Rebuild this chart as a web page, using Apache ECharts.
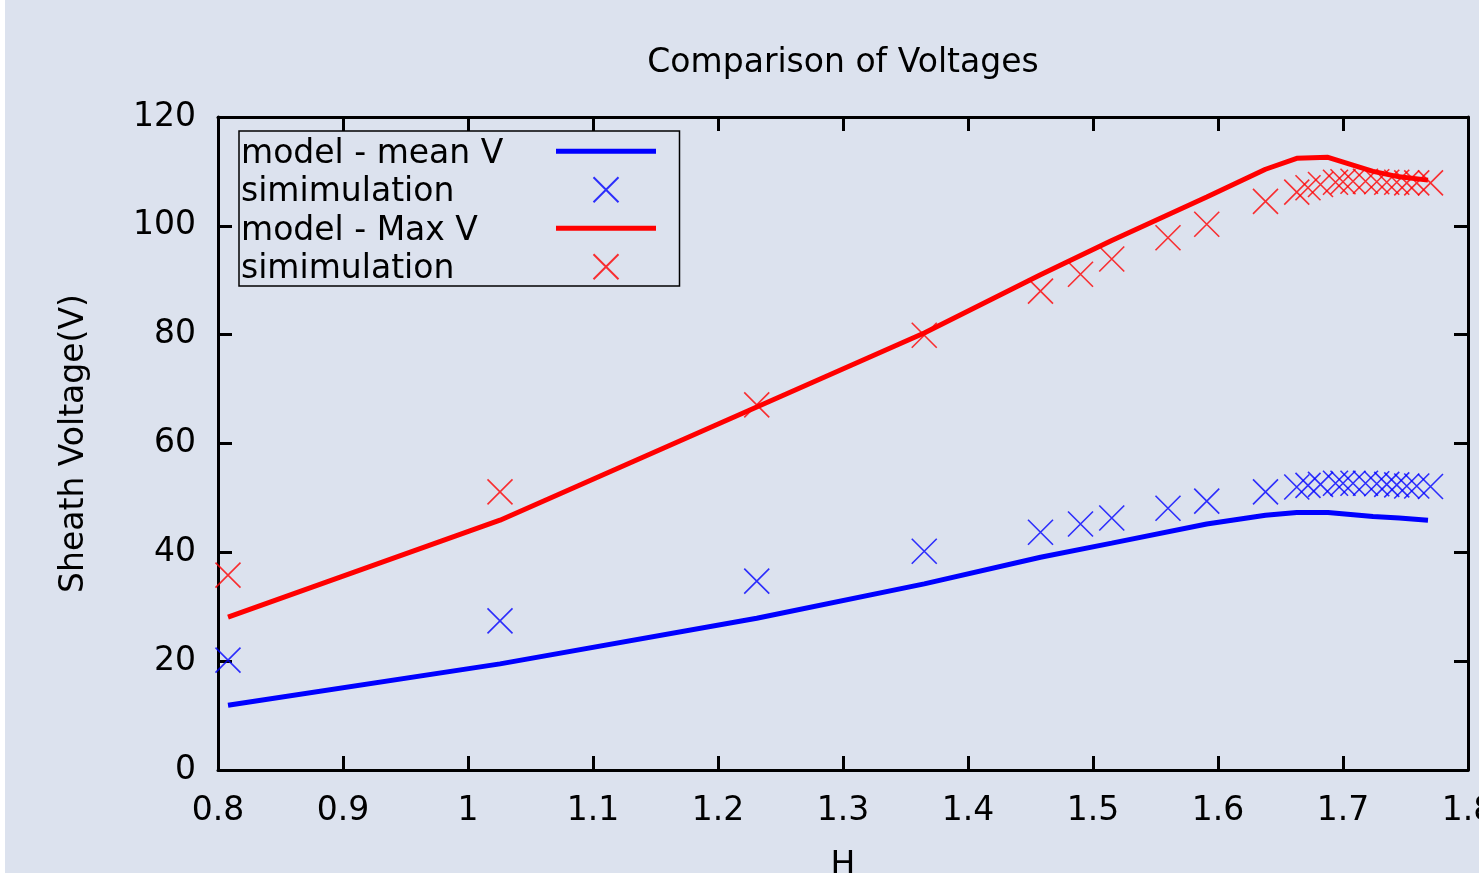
<!DOCTYPE html>
<html><head><meta charset="utf-8">
<script src="https://cdn.jsdelivr.net/npm/echarts@6/dist/echarts.min.js"></script>
<style>
html,body{margin:0;padding:0;background:#ffffff;overflow:hidden;}
#c{position:absolute;left:5px;top:0;width:1474px;height:873px;}
</style></head>
<body><div id="c"></div>
<script>
const H_model = [0.808, 1.0256, 1.231, 1.365, 1.458, 1.515, 1.591, 1.638, 1.663, 1.688, 1.724, 1.745, 1.768];
const meanModel = [11.9, 19.5, 27.9, 34.2, 39.1, 41.7, 45.2, 46.8, 47.3, 47.3, 46.6, 46.3, 45.9];
const maxModel = [28.1, 45.9, 66.7, 80.3, 91.0, 97.3, 105.3, 110.4, 112.4, 112.6, 110.0, 109.0, 108.4];
const H_sim = [0.808, 1.0256, 1.231, 1.365, 1.458, 1.49, 1.515, 1.56, 1.591, 1.638, 1.663, 1.672, 1.682, 1.694, 1.70, 1.708, 1.718, 1.727, 1.735, 1.743, 1.751, 1.759, 1.77];
const meanSim = [20.2, 27.4, 34.7, 40.2, 43.7, 45.2, 46.3, 48.1, 49.4, 51.1, 52.0, 52.3, 52.5, 52.7, 52.7, 52.7, 52.7, 52.6, 52.5, 52.4, 52.2, 52.2, 52.1];
const maxSim = [35.8, 51.1, 67.1, 79.9, 88.0, 91.1, 93.9, 97.8, 100.3, 104.5, 106.2, 107.0, 107.6, 108.0, 108.1, 108.2, 108.2, 108.1, 108.0, 108.0, 107.9, 107.9, 107.9];
const seriesNames = ['model - mean V', 'simimulation', 'model - Max V', 'simimulation '];
const titleText = 'Comparison of Voltages';
const xName = 'H';
const yName = 'Sheath Voltage(V)';

const zip = (a, b) => a.map((v, i) => [v, b[i]]);
const FONT = 'DejaVu Sans';
const FS = 33;
const CROSS = 'path://M0,0L10,10M10,0L0,10';
const axisCommon = {
  axisLine: {show: true, onZero: false, lineStyle: {color: '#000', width: 3}},
  axisTick: {show: true, inside: true, length: 14, lineStyle: {color: '#000', width: 3}},
  splitLine: {show: false}
};
const chart = echarts.init(document.getElementById('c'), null, {renderer: 'canvas'});
chart.setOption({
  backgroundColor: '#dce2ee',
  animation: false,
  title: {text: titleText, left: 838, top: 47, textAlign: 'center', padding: 0,
    textStyle: {fontFamily: FONT, fontSize: FS, fontWeight: 'normal', color: '#000'}},
  grid: {left: 213, right: 11, top: 117, bottom: 103, containLabel: false, outerBoundsMode: 'none'},
  legend: {
    orient: 'vertical', left: 234, top: 131, align: 'right',
    data: [
      {name: seriesNames[0], itemStyle: {opacity: 0}, lineStyle: {width: 5, color: '#0000ff'}},
      {name: seriesNames[1]},
      {name: seriesNames[2], itemStyle: {opacity: 0}, lineStyle: {width: 5, color: '#ff0000'}},
      {name: seriesNames[3]}
    ],
    itemWidth: 100, itemHeight: 25, itemGap: 0,
    padding: [1, 21, 0, 2],
    borderColor: '#000', borderWidth: 1.5,
    formatter: name => '{a|' + name.trim() + '}',
    textStyle: {fontFamily: FONT, fontSize: FS, color: '#000',
      rich: {a: {fontFamily: FONT, fontSize: FS, color: '#000', width: 310, align: 'left',
        padding: [5.5, 0, 0, 0], lineHeight: 31}}}
  },
  xAxis: [
    Object.assign({type: 'value', position: 'bottom', min: 0.8, max: 1.8, interval: 0.1,
      name: xName, nameLocation: 'middle', nameGap: 80,
      nameTextStyle: {fontFamily: FONT, fontSize: FS, color: '#000'},
      axisLabel: {fontFamily: FONT, fontSize: FS, color: '#000', margin: 25}}, axisCommon),
    Object.assign({type: 'value', position: 'top', min: 0.8, max: 1.8, interval: 0.1,
      axisLabel: {show: false}}, axisCommon)
  ],
  yAxis: [
    Object.assign({type: 'value', position: 'left', min: 0, max: 120, interval: 20,
      name: yName, nameLocation: 'middle', nameGap: 127,
      nameTextStyle: {fontFamily: FONT, fontSize: FS, color: '#000'},
      axisLabel: {fontFamily: FONT, fontSize: FS, color: '#000', margin: 22}}, axisCommon),
    Object.assign({type: 'value', position: 'right', min: 0, max: 120, interval: 20,
      axisLabel: {show: false}}, axisCommon)
  ],
  series: [
    {name: seriesNames[0], type: 'line', data: zip(H_model, meanModel), symbol: 'none',
      lineStyle: {color: '#0000ff', width: 5}, itemStyle: {color: '#0000ff'}},
    {name: seriesNames[1], type: 'scatter', data: zip(H_sim, meanSim), symbol: CROSS, symbolSize: 25,
      symbolKeepAspect: true,
      itemStyle: {color: 'none', borderColor: '#0000ff', borderWidth: 1.6}},
    {name: seriesNames[2], type: 'line', data: zip(H_model, maxModel), symbol: 'none',
      lineStyle: {color: '#ff0000', width: 5}, itemStyle: {color: '#ff0000'}},
    {name: seriesNames[3], type: 'scatter', data: zip(H_sim, maxSim), symbol: CROSS, symbolSize: 25,
      symbolKeepAspect: true,
      itemStyle: {color: 'none', borderColor: '#ff0000', borderWidth: 1.6}}
  ]
});
</script></body></html>
